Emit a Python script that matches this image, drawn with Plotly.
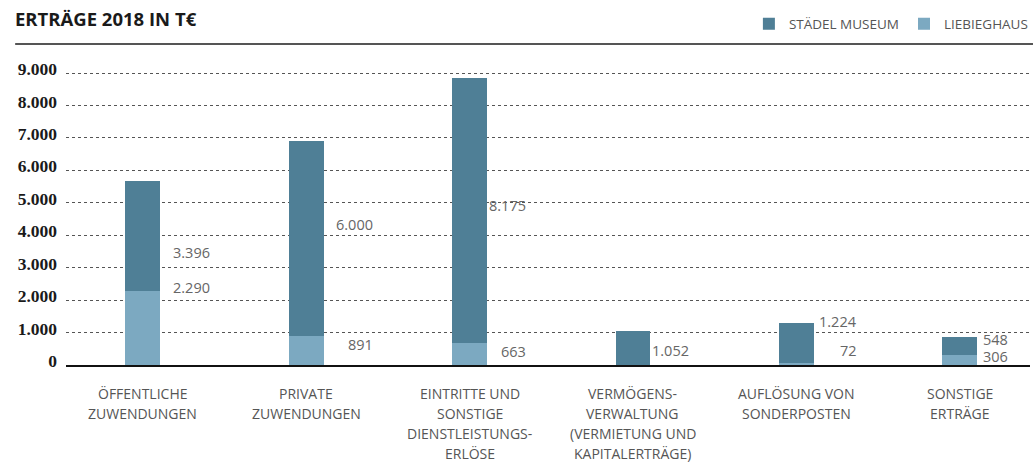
import plotly.graph_objects as go

categories = [
    ["ÖFFENTLICHE", "ZUWENDUNGEN"],
    ["PRIVATE", "ZUWENDUNGEN"],
    ["EINTRITTE UND", "SONSTIGE", "DIENSTLEISTUNGS-", "ERLÖSE"],
    ["VERMÖGENS-", "VERWALTUNG", "(VERMIETUNG UND", "KAPITALERTRÄGE)"],
    ["AUFLÖSUNG VON", "SONDERPOSTEN"],
    ["SONSTIGE", "ERTRÄGE"],
]
staedel = [3396, 6000, 8175, 1052, 1224, 548]
liebieghaus = [2290, 891, 663, None, 72, 306]
staedel_labels = ["3.396", "6.000", "8.175", "1.052", "1.224", "548"]
liebieghaus_labels = ["2.290", "891", "663", None, "72", "306"]
y_ticks = [0, 1000, 2000, 3000, 4000, 5000, 6000, 7000, 8000, 9000]
y_ticktext = ["0", "1.000", "2.000", "3.000", "4.000", "5.000", "6.000", "7.000", "8.000", "9.000"]

# label placement (data units for y, pixels for right edge offset)
staedel_label_y = [3483, 4346, 4932, 462, 1356, 771]
liebieghaus_label_y = [2404, 647, 401, None, 432, 247]
label_xshift = [69, 69, 58, 58, 63, 50]

DARK = "#4f7f96"
LIGHT = "#7ca9c1"
xs = list(range(len(categories)))

fig = go.Figure()
fig.add_trace(go.Bar(x=xs, y=liebieghaus, name="LIEBIEGHAUS", marker_color=LIGHT,
                     marker_line_width=0, width=0.213))
fig.add_trace(go.Bar(x=xs, y=staedel, name="STÄDEL MUSEUM", marker_color=DARK,
                     marker_line_width=0, width=0.213))

ann = []
for i in xs:
    for lab, ly in ((staedel_labels[i], staedel_label_y[i]), (liebieghaus_labels[i], liebieghaus_label_y[i])):
        if lab is None:
            continue
        ann.append(dict(x=i, y=ly, xref="x", yref="y", text=lab, showarrow=False,
                        xanchor="right", yanchor="middle", xshift=label_xshift[i],
                        font=dict(family="Open Sans", size=14.5, color="#666666")))
    for k, line in enumerate(categories[i]):
        ann.append(dict(x=i, y=0, xref="x", yref="y", text=line, showarrow=False,
                        xanchor="center", yanchor="middle", yshift=-28 - 20 * k,
                        font=dict(family="Open Sans", size=14, color="#555555")))

fig.update_layout(
    width=1036, height=462,
    margin=dict(l=66, r=3, t=50, b=97),
    paper_bgcolor="white", plot_bgcolor="white",
    barmode="stack",
    showlegend=True,
    legend=dict(orientation="h", x=1.003, xanchor="right", y=(365 - 24) / 315, yanchor="middle",
                traceorder="reversed", font=dict(family="Open Sans", size=13.5, color="#555555"),
                itemclick=False, bgcolor="rgba(0,0,0,0)"),
    title=dict(text="<b>ERTRÄGE 2018 IN T€</b>", x=15 / 1036, xref="container", xanchor="left",
               y=1 - 20 / 462, yref="container", yanchor="middle",
               font=dict(family="Open Sans", size=18.5, color="#1a1a1a")),
    xaxis=dict(range=[-0.4695, 5.43], showticklabels=False, showgrid=False, zeroline=False,
               showline=True, linecolor="#111111", linewidth=1.5, fixedrange=True),
    yaxis=dict(range=[0, 9710], tickvals=y_ticks, ticktext=y_ticktext, showgrid=True,
               gridcolor="#555555", griddash="dot", gridwidth=1, zeroline=False, showline=False,
               ticks="", ticklabelstandoff=8, ticklabelshift=-4,
               tickfont=dict(family="Liberation Serif", size=17.5, color="#1a1a1a", weight="bold")),
    annotations=ann,
    shapes=[dict(type="line", xref="paper", yref="paper", x0=(15 - 66) / 967, x1=(1036 - 66) / 967,
                 y0=(365 - 44) / 315, y1=(365 - 44) / 315, line=dict(color="#555555", width=2))],
    bargap=0,
)

fig.write_html("out.html", config={"displayModeBar": False},
               post_script="document.body.style.margin='0';")
